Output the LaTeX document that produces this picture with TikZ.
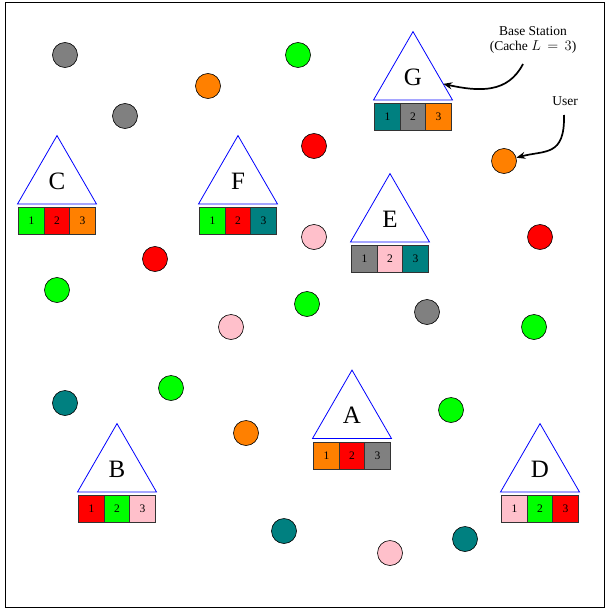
\documentclass[tikz,border=0pt]{standalone}
\usepackage{fontspec}
\setmainfont{Liberation Serif}
\usetikzlibrary{shapes.geometric,arrows.meta}
\definecolor{myorange}{HTML}{FF8000}
\definecolor{mygreen}{HTML}{00FF00}
\definecolor{mygray}{HTML}{808080}
\definecolor{myteal}{HTML}{008080}
\definecolor{mypink}{HTML}{FFC0CB}
\definecolor{myred}{HTML}{FF0000}
\definecolor{boxline}{HTML}{333333}
\tikzset{
  bsnode/.style={regular polygon, regular polygon sides=3, draw=blue, line width=0.8pt,
    minimum size=91.2pt, inner sep=0pt, outer sep=0pt, font=\fontsize{25}{25}\selectfont},
  cbox/.style={draw=boxline, line width=0.8pt, minimum width=25.5pt, minimum height=27pt,
    inner sep=0pt, font=\fontsize{11.5}{11.5}\selectfont},
  usr/.style={circle, draw=black, line width=0.6pt, minimum size=25pt, inner sep=0pt},
  ann/.style={font=\fontsize{13.5}{15}\selectfont, align=center, inner sep=0pt},
  callout/.style={-{Stealth[length=9pt,width=7pt,inset=3pt]}, line width=1.7pt}
}
\newcommand{\bstat}[7]{%
  \node[bsnode] (#1) at (#2,#3-22.8) {\raisebox{-2.5pt}{#4}};
  \node[cbox,fill=#5] (#1-1) at (#2-25.5,#3+17) {1};
  \node[cbox,fill=#6] (#1-2) at (#2,#3+17) {2};
  \node[cbox,fill=#7] (#1-3) at (#2+25.5,#3+17) {3};}
\begin{document}
\begin{tikzpicture}[x=1pt,y=-1pt]
\useasboundingbox (0,0) rectangle (605,610);
\draw[line width=0.8pt] (5,2) rectangle (604,607);
% base stations
\bstat{G}{413}{100}{G}{myteal}{mygray}{myorange}
\bstat{C}{57}{204}{C}{mygreen}{myred}{myorange}
\bstat{F}{238}{204}{F}{mygreen}{myred}{myteal}
\bstat{E}{390}{242}{E}{mygray}{mypink}{myteal}
\bstat{A}{352}{438.5}{A}{myorange}{myred}{mygray}
\bstat{B}{117}{492}{B}{myred}{mygreen}{mypink}
\bstat{D}{540}{492}{D}{mypink}{mygreen}{myred}
% users
\node[usr,fill=mygray]   (u1)  at (65,55) {};
\node[usr,fill=mygreen]  (u2)  at (298,55) {};
\node[usr,fill=myorange] (u3)  at (208,86) {};
\node[usr,fill=mygray]   (u4)  at (125,116) {};
\node[usr,fill=myred]    (u5)  at (314,146) {};
\node[usr,fill=myorange] (u6)  at (504,161) {};
\node[usr,fill=mypink]   (u7)  at (314,237) {};
\node[usr,fill=myred]    (u8)  at (540,237) {};
\node[usr,fill=myred]    (u9)  at (155,259) {};
\node[usr,fill=mygreen]  (u10) at (57,290) {};
\node[usr,fill=mygreen]  (u11) at (307,304) {};
\node[usr,fill=mygray]   (u12) at (427,312) {};
\node[usr,fill=mypink]   (u13) at (231,327) {};
\node[usr,fill=mygreen]  (u14) at (534,327) {};
\node[usr,fill=myteal]   (u15) at (65,403) {};
\node[usr,fill=mygreen]  (u16) at (171,388) {};
\node[usr,fill=mygreen]  (u17) at (451,410) {};
\node[usr,fill=myorange] (u18) at (246,433) {};
\node[usr,fill=myteal]   (u19) at (284,531) {};
\node[usr,fill=mypink]   (u20) at (390,553) {};
\node[usr,fill=myteal]   (u21) at (465,539) {};
% annotations
\node[ann] (bslabel) at (533,40) {Base Station\\(Cache $L\,=\,3$)};
\node[ann] (ulabel) at (565,101) {User};
\coordinate (a1) at (523,64);
\coordinate (a2) at (564,115);
\draw[callout] (a1) .. controls (508,93) and (480,92) .. (G);
\draw[callout] (a2) .. controls (565,157) and (545,150) .. (u6);
\end{tikzpicture}
\end{document}
